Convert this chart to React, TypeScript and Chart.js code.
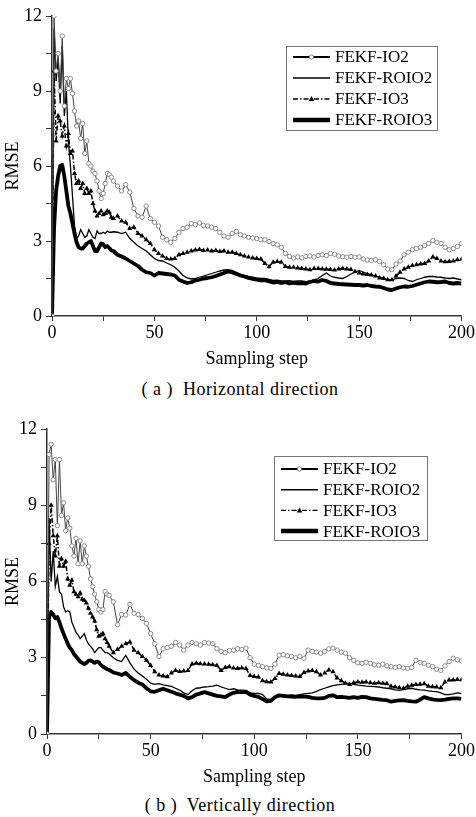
import React, { useEffect, useRef } from "react";
import { Chart, registerables } from "chart.js";
Chart.register(...registerables);

const FONT = '"Liberation Serif", "Times New Roman", serif';

const steps = [
  0, 1, 2, 3, 4, 5, 6, 7, 8, 9, 10, 11, 12, 13, 14, 15,
  16, 17, 18, 19, 20, 21, 22, 23, 24, 25, 26, 27, 28, 29, 30,
  32, 34, 36, 38, 40, 42, 44, 46, 48, 50, 52, 54, 56, 58, 60,
  62, 64, 66, 68, 70, 72, 74, 76, 78, 80, 82, 84, 86, 88, 90,
  92, 94, 96, 98, 100, 102, 104, 106, 108, 110, 112, 114, 116, 118, 120,
  122, 124, 126, 128, 130, 132, 134, 136, 138, 140, 142, 144, 146, 148, 150,
  152, 154, 156, 158, 160, 162, 164, 166, 168, 170, 172, 174, 176, 178, 180,
  182, 184, 186, 188, 190, 192, 194, 196, 198, 200,
];

const seriesNames = ["FEKF-IO2", "FEKF-ROIO2", "FEKF-IO3", "FEKF-ROIO3"];
const xLabels = [0, 50, 100, 150, 200];
const yLabels = [0, 3, 6, 9, 12];

// (a) Horizontal direction
const hIO2 = [
  0, 12.0, 9.8, 10.5, 9.0, 11.2, 8.4, 9.5, 9.1, 9.5, 8.9, 8.2, 7.6, 7.8, 7.1, 7.7,
  6.5, 7.0, 6.1, 6.0, 5.8, 5.7, 5.4, 5.0, 4.7, 4.9, 5.3, 5.7, 5.65, 5.55, 5.4,
  5.2, 5.0, 5.25, 4.95, 4.3, 4.0, 3.95, 4.4, 3.9, 3.75, 3.6, 3.15, 3.05, 2.95, 3.1,
  3.35, 3.5, 3.55, 3.7, 3.65, 3.72, 3.62, 3.6, 3.55, 3.5, 3.35, 3.2, 3.15, 3.3, 3.38,
  3.25, 3.2, 3.15, 3.12, 3.1, 3.05, 3.05, 2.98, 2.9, 2.85, 2.75, 2.5, 2.38, 2.32, 2.36,
  2.33, 2.38, 2.4, 2.36, 2.42, 2.45, 2.42, 2.5, 2.47, 2.4, 2.37, 2.35, 2.38, 2.35, 2.36,
  2.28, 2.24, 2.22, 2.25, 2.18, 2.05, 1.88, 1.85, 2.08, 2.2, 2.45, 2.55, 2.65, 2.7, 2.75,
  2.82, 2.9, 3.02, 2.95, 2.9, 2.75, 2.65, 2.7, 2.78, 2.9,
];
const hROIO2 = [
  0, 11.5, 9.4, 10.3, 8.5, 10.8, 8.0, 9.0, 7.0, 6.0, 4.8, 3.6, 3.1, 3.2, 3.45, 3.3,
  3.15, 3.2, 3.45, 3.3, 3.15, 3.1, 3.4, 3.3, 3.3, 3.35, 3.3, 3.4, 3.35, 3.35, 3.37,
  3.35, 3.3, 3.35, 3.1, 2.95, 2.8, 2.7, 2.6, 2.45, 2.3, 2.22, 2.2, 2.12, 2.05, 1.95,
  1.8, 1.62, 1.52, 1.48, 1.5, 1.55, 1.6, 1.65, 1.7, 1.75, 1.8, 1.84, 1.85, 1.82, 1.75,
  1.68, 1.62, 1.58, 1.55, 1.52, 1.5, 1.5, 1.46, 1.42, 1.43, 1.4, 1.4, 1.41, 1.38, 1.4,
  1.4, 1.37, 1.4, 1.45, 1.5, 1.62, 1.72, 1.6, 1.55, 1.52, 1.5, 1.58, 1.68, 1.75, 1.82,
  1.75, 1.7, 1.65, 1.6, 1.55, 1.5, 1.45, 1.44, 1.5, 1.52, 1.5, 1.42, 1.38, 1.45, 1.5,
  1.55, 1.58, 1.58, 1.56, 1.55, 1.52, 1.5, 1.52, 1.48, 1.45,
];
const hIO3 = [
  0, 9.8, 7.0, 8.0, 7.8, 7.2, 7.6, 6.8, 7.3, 6.5, 6.6, 5.7, 5.3, 5.4, 5.1, 5.3,
  4.9, 5.1, 4.9, 5.0, 4.5, 4.2, 4.0, 4.1, 4.2, 4.05, 4.1, 4.2, 4.15, 3.95, 3.9,
  4.0, 3.8, 3.75, 3.5, 3.55, 3.3, 3.2, 3.05, 2.9, 2.65, 2.5, 2.4, 2.3, 2.28, 2.3,
  2.45, 2.5, 2.55, 2.6, 2.64, 2.66, 2.62, 2.64, 2.6, 2.62, 2.58, 2.6, 2.55, 2.55, 2.5,
  2.45, 2.4, 2.36, 2.32, 2.3, 2.28, 2.1, 1.97, 2.15, 2.18, 2.15, 1.98, 1.95, 1.95, 1.92,
  1.9, 1.88, 1.85, 1.9, 1.9, 1.88, 1.87, 1.86, 1.84, 1.88, 1.9, 1.88, 1.86, 1.78, 1.72,
  1.68, 1.66, 1.64, 1.6, 1.52, 1.5, 1.45, 1.45, 1.6, 1.75, 1.88, 1.95, 2.02, 2.05, 2.08,
  2.1, 2.2, 2.36, 2.3, 2.2, 2.17, 2.18, 2.2, 2.25, 2.27,
];
const hROIO3 = [
  0, 3.5, 5.0, 5.6, 6.0, 6.05, 5.6, 5.0, 4.4, 4.1, 3.7, 3.3, 2.95, 2.75, 2.7, 2.7,
  2.8, 2.9, 2.95, 3.0, 2.8, 2.6, 2.6, 2.75, 2.9, 2.88, 2.75, 2.8, 2.72, 2.62, 2.6,
  2.45, 2.38, 2.3, 2.2, 2.1, 2.0, 1.85, 1.75, 1.72, 1.62, 1.72, 1.7, 1.68, 1.66, 1.62,
  1.45, 1.38, 1.32, 1.35, 1.42, 1.45, 1.5, 1.52, 1.55, 1.6, 1.66, 1.72, 1.78, 1.74, 1.68,
  1.62, 1.58, 1.52, 1.48, 1.45, 1.42, 1.44, 1.38, 1.34, 1.36, 1.32, 1.35, 1.3, 1.33, 1.31,
  1.32, 1.3, 1.36, 1.4, 1.38, 1.44, 1.4, 1.32, 1.3, 1.28, 1.27, 1.26, 1.25, 1.24, 1.24,
  1.22, 1.24, 1.2, 1.18, 1.17, 1.12, 1.06, 1.04, 1.1, 1.15, 1.18, 1.17, 1.2, 1.25, 1.3,
  1.35, 1.38, 1.37, 1.35, 1.36, 1.38, 1.32, 1.3, 1.32, 1.3,
];

// (b) Vertically direction
const vIO2 = [
  0, 11.0, 11.4, 10.0, 10.8, 8.2, 10.8, 8.6, 9.1, 8.0, 8.5, 8.1, 7.4, 7.0, 7.7, 6.7,
  7.6, 6.7, 7.4, 7.0, 6.6, 6.1, 5.8, 5.5, 5.2, 4.9, 4.8, 4.9, 5.6, 5.5, 5.45,
  5.2, 4.3, 4.7, 4.68, 5.1, 4.75, 4.7, 4.55, 4.35, 3.95, 3.55, 3.05, 3.35, 3.4, 3.45,
  3.6, 3.5, 3.3, 3.5, 3.6, 3.55, 3.5, 3.6, 3.58, 3.55, 3.35, 3.25, 3.2, 3.28, 3.3,
  3.35, 3.32, 3.38, 3.0, 2.75, 2.7, 2.65, 2.6, 2.58, 2.75, 3.1, 3.12, 3.08, 3.05, 3.0,
  3.05, 2.98, 3.3, 3.25, 3.22, 3.18, 3.25, 3.35, 3.38, 3.3, 3.22, 3.18, 3.0, 2.9, 2.8,
  2.78, 2.82, 2.78, 2.72, 2.7, 2.75, 2.68, 2.65, 2.62, 2.65, 2.6, 2.58, 2.62, 2.9, 2.82,
  2.78, 2.7, 2.65, 2.55, 2.5, 2.68, 2.85, 2.98, 2.92, 2.88,
];
const vROIO2 = [
  0, 8.5, 6.0, 7.2, 5.8, 6.2, 5.6, 5.5, 5.0, 4.8, 4.85, 4.8, 4.4, 4.2, 4.0, 3.9,
  3.75, 3.85, 3.95, 3.7, 3.55, 3.45, 3.35, 3.2, 3.3, 3.4, 3.4, 3.3, 3.2, 3.2, 3.15,
  3.0, 2.9, 2.85, 3.1, 2.8, 2.55, 2.4, 2.28, 2.15, 2.0, 1.95, 1.98, 1.93, 1.9, 1.87,
  1.8, 1.73, 1.62, 1.55, 1.7, 1.8, 1.82, 1.85, 1.86, 1.88, 1.92, 1.85, 1.8, 1.75, 1.78,
  1.74, 1.73, 1.72, 1.62, 1.6, 1.6, 1.55, 1.38, 1.35, 1.45, 1.48, 1.5, 1.52, 1.54, 1.52,
  1.55, 1.58, 1.6, 1.62, 1.68, 1.75, 1.8, 1.85, 1.9, 1.93, 1.95, 1.98, 2.0, 1.95, 1.92,
  1.9, 1.88, 1.87, 1.86, 1.85, 1.82, 1.8, 1.78, 1.74, 1.72, 1.75, 1.78, 1.8, 1.76, 1.74,
  1.73, 1.7, 1.68, 1.67, 1.62, 1.55, 1.55, 1.58, 1.62, 1.6,
];
const vIO3 = [
  0, 7.5, 9.0, 7.8, 7.0, 7.8, 6.6, 6.9, 6.6, 6.8, 6.1, 5.85, 6.05, 5.6, 5.5, 5.4,
  5.55, 5.3, 5.25, 5.15, 4.95, 4.75, 4.6, 4.45, 4.1, 3.85, 3.9, 3.95, 3.75, 3.6, 3.45,
  3.2, 3.32, 3.45, 3.55, 3.62, 3.3, 3.2, 3.05, 2.9, 2.7, 2.45, 2.32, 2.28, 2.25, 2.4,
  2.5, 2.46, 2.48, 2.5, 2.75, 2.78, 2.76, 2.75, 2.74, 2.72, 2.7, 2.5, 2.62, 2.65, 2.6,
  2.58, 2.6, 2.58, 2.3, 2.26, 2.24, 2.1, 2.06, 2.05, 2.18, 2.38, 2.35, 2.32, 2.3, 2.28,
  2.26, 2.42, 2.48, 2.5, 2.45, 2.32, 2.4, 2.52, 2.45, 2.2, 2.1, 2.0, 1.95, 2.02, 2.05,
  2.04, 2.05, 2.02, 2.0, 2.02, 2.0, 1.98, 1.88, 1.85, 1.82, 1.8, 1.88, 1.92, 1.95, 1.96,
  1.98, 1.88, 1.86, 1.85, 1.82, 2.05, 2.12, 2.12, 2.14, 2.13,
];
const vROIO3 = [
  0, 4.6, 4.8, 4.7, 4.55, 4.6, 4.4, 4.15, 3.95, 3.75, 3.55, 3.4, 3.3, 3.15, 3.05, 2.95,
  2.85, 2.8, 2.75, 2.8, 2.88, 2.9, 2.85, 2.8, 2.85, 2.82, 2.72, 2.65, 2.6, 2.55, 2.52,
  2.42, 2.38, 2.32, 2.4, 2.25, 2.12, 2.02, 1.95, 1.8, 1.68, 1.66, 1.72, 1.78, 1.72, 1.66,
  1.6, 1.55, 1.5, 1.4, 1.45, 1.55, 1.6, 1.65, 1.6, 1.55, 1.5, 1.48, 1.45, 1.55, 1.62,
  1.66, 1.65, 1.66, 1.55, 1.5, 1.46, 1.38, 1.28, 1.3, 1.45, 1.52, 1.5, 1.48, 1.47, 1.46,
  1.48, 1.47, 1.46, 1.42, 1.4, 1.4, 1.42, 1.5, 1.52, 1.45, 1.46, 1.44, 1.42, 1.45, 1.42,
  1.46, 1.45, 1.4, 1.38, 1.36, 1.34, 1.33, 1.27, 1.3, 1.32, 1.33, 1.3, 1.28, 1.27, 1.35,
  1.45, 1.4, 1.36, 1.34, 1.33, 1.35, 1.38, 1.4, 1.4, 1.38,
];

type LegendBox = { offRight: number; offTop: number; w: number; h: number; firstRow: number; rowH: number };

function toPts(vals: number[]) {
  return steps.map((s, i) => ({ x: s, y: vals[i] }));
}

function legendPlugin(box: LegendBox) {
  return {
    id: "boxLegend",
    afterDatasetsDraw(chart: any) {
      const ctx = chart.ctx as CanvasRenderingContext2D;
      const { right, top } = chart.chartArea;
      const x0 = Math.round(right - box.offRight);
      const y0 = Math.round(top + box.offTop);
      ctx.save();
      ctx.fillStyle = "#fff";
      ctx.fillRect(x0, y0, box.w, box.h);
      ctx.strokeStyle = "#777";
      ctx.lineWidth = 1;
      ctx.strokeRect(x0 + 0.5, y0 + 0.5, box.w, box.h);
      const styles = [
        { w: 2, dash: [] as number[], mark: "circle" },
        { w: 1.5, dash: [] as number[], mark: "" },
        { w: 1.4, dash: [5, 2, 1.5, 2], mark: "tri" },
        { w: 4.5, dash: [] as number[], mark: "" },
      ];
      chart.data.datasets.forEach((ds: any, i: number) => {
        const st = styles[i];
        const cy = y0 + box.firstRow + i * box.rowH;
        const lx0 = x0 + 7;
        const lx1 = x0 + 44;
        ctx.beginPath();
        ctx.setLineDash(st.dash);
        ctx.lineWidth = st.w;
        ctx.strokeStyle = "#000";
        ctx.moveTo(lx0, cy);
        ctx.lineTo(lx1, cy);
        ctx.stroke();
        ctx.setLineDash([]);
        const mx = (lx0 + lx1) / 2;
        if (st.mark === "circle") {
          ctx.beginPath();
          ctx.arc(mx, cy, 2.2, 0, Math.PI * 2);
          ctx.fillStyle = "#fff";
          ctx.fill();
          ctx.lineWidth = 0.8;
          ctx.strokeStyle = "#666";
          ctx.stroke();
        } else if (st.mark === "tri") {
          ctx.beginPath();
          ctx.moveTo(mx, cy - 3);
          ctx.lineTo(mx + 2.8, cy + 2);
          ctx.lineTo(mx - 2.8, cy + 2);
          ctx.closePath();
          ctx.fillStyle = "#000";
          ctx.fill();
        }
        ctx.fillStyle = "#000";
        ctx.font = `17px ${FONT}`;
        ctx.textBaseline = "middle";
        ctx.textAlign = "left";
        ctx.fillText(ds.label, x0 + 49, cy + 1);
      });
      ctx.restore();
    },
  };
}

function buildChart(
  canvas: HTMLCanvasElement,
  data: number[][],
  yWidth: number,
  padTop: number,
  padRight: number,
  box: LegendBox
) {
  const tickFont = { family: FONT, size: 18 };
  return new Chart(canvas, {
    type: "line",
    data: {
      datasets: [
        {
          label: seriesNames[0],
          data: toPts(data[0]),
          borderColor: "#444",
          borderWidth: 1,
          pointRadius: 2.2,
          pointBorderWidth: 0.9,
          pointBorderColor: "#808080",
          pointBackgroundColor: "#fff",
          pointStyle: "circle",
        },
        {
          label: seriesNames[1],
          data: toPts(data[1]),
          borderColor: "#000",
          borderWidth: 1.3,
          pointRadius: 0,
        },
        {
          label: seriesNames[2],
          data: toPts(data[2]),
          borderColor: "#000",
          borderWidth: 1.5,
          borderDash: [5, 2, 1.5, 2],
          pointRadius: 3,
          pointStyle: "triangle",
          pointBorderWidth: 0,
          pointBackgroundColor: "#000",
          pointBorderColor: "#000",
        },
        {
          label: seriesNames[3],
          data: toPts(data[3]),
          borderColor: "#000",
          borderWidth: 3.8,
          pointRadius: 0,
          borderJoinStyle: "round",
        },
      ] as any,
    },
    options: {
      responsive: false,
      animation: false,
      layout: { padding: { left: 0, right: padRight, top: padTop, bottom: 0 } },
      plugins: { legend: { display: false }, tooltip: { enabled: false } },
      elements: { line: { tension: 0 } },
      scales: {
        x: {
          type: "linear",
          min: 0,
          max: 200,
          ticks: {
            stepSize: 25,
            autoSkip: false,
            maxRotation: 0,
            padding: 1,
            color: "#000",
            font: tickFont,
            callback: (v: any) => (xLabels.includes(Number(v)) ? String(v) : ""),
          },
          grid: { drawOnChartArea: false, drawTicks: true, tickLength: 5, color: "#333", lineWidth: 1 },
          border: { display: true, color: "#333", width: 1.5 },
          title: {
            display: true,
            text: "Sampling step",
            color: "#000",
            font: tickFont,
            padding: { top: 0, bottom: 2 },
          },
          afterFit: (s: any) => {
            s.height = 56;
          },
        },
        y: {
          type: "linear",
          min: 0,
          max: 12,
          ticks: {
            stepSize: 1.5,
            autoSkip: false,
            padding: 4,
            color: "#000",
            font: tickFont,
            callback: (v: any) => (yLabels.includes(Number(v)) ? String(v) : ""),
          },
          grid: { drawOnChartArea: false, drawTicks: true, tickLength: 6, color: "#333", lineWidth: 1 },
          border: { display: true, color: "#333", width: 1.5 },
          title: {
            display: true,
            text: "RMSE",
            color: "#000",
            font: tickFont,
            padding: { top: 2, bottom: 0 },
          },
          afterFit: (s: any) => {
            s.width = yWidth;
          },
        },
      },
    } as any,
    plugins: [legendPlugin(box)],
  });
}

export default function App() {
  const refA = useRef<HTMLCanvasElement>(null);
  const refB = useRef<HTMLCanvasElement>(null);
  useEffect(() => {
    const a = buildChart(refA.current!, [hIO2, hROIO2, hIO3, hROIO3], 52, 16, 14, {
      offRight: 176,
      offTop: 30,
      w: 151,
      h: 84,
      firstRow: 11,
      rowH: 21,
    });
    const b = buildChart(refB.current!, [vIO2, vROIO2, vIO3, vROIO3], 47, 19, 13, {
      offRight: 188,
      offTop: 27,
      w: 153,
      h: 84,
      firstRow: 13,
      rowH: 20.7,
    });
    return () => {
      a.destroy();
      b.destroy();
    };
  }, []);
  const cap: React.CSSProperties = {
    position: "absolute",
    left: 0,
    width: 480,
    textAlign: "center",
    fontFamily: FONT,
    fontSize: 18,
    letterSpacing: "0.5px",
    lineHeight: "20px",
    color: "#000",
    whiteSpace: "pre",
  };
  return (
    <div style={{ position: "absolute", left: 0, top: 0, width: 476, height: 817, background: "#fff" }}>
      <canvas ref={refA} width={476} height={372} style={{ position: "absolute", left: 0, top: 0 }} />
      <div style={{ ...cap, top: 379 }}>{"( a )  Horizontal direction"}</div>
      <canvas ref={refB} width={476} height={380} style={{ position: "absolute", left: 0, top: 410 }} />
      <div style={{ ...cap, top: 795 }}>{"( b )  Vertically direction"}</div>
    </div>
  );
}
